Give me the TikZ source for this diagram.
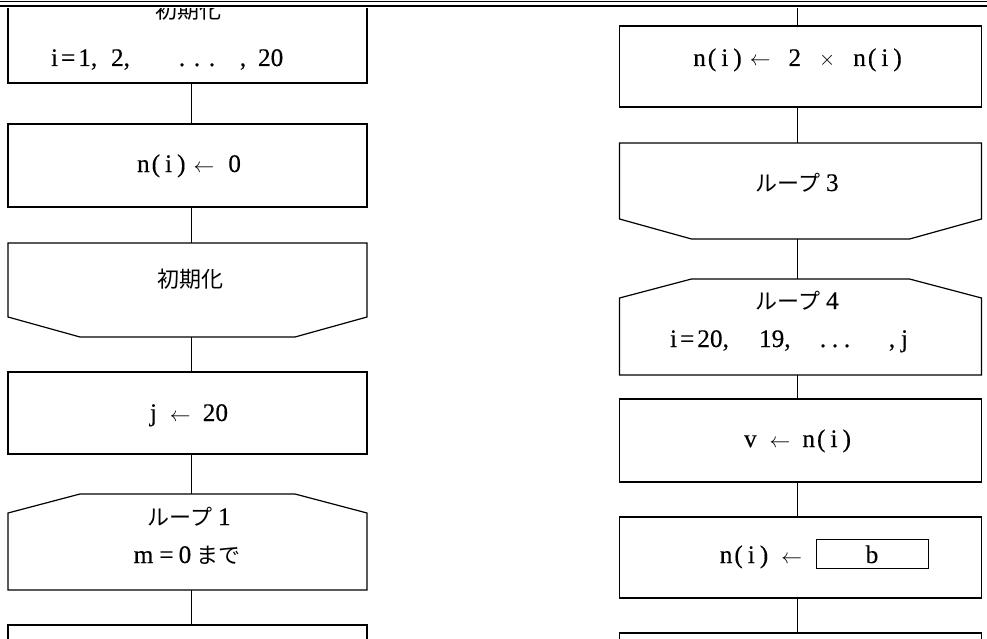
\documentclass[tikz,border=0pt]{standalone}
\usepackage{fontspec}
\setmainfont{Liberation Serif}[Scale=1.15, FakeBold=0.3]
\newfontfamily\jp{Noto Sans CJK JP}
\newcommand{\nix}{n\hspace{2pt}(\hspace{5pt}i\hspace{5pt})}
\newcommand{\larr}{$\leftarrow$}
\begin{document}
\begin{tikzpicture}[x=1pt,y=-1pt,
  every node/.style={inner sep=0pt, outer sep=0pt, font=\fontsize{22}{26}\selectfont},
  frame/.style={draw, line width=1.2pt},
  conn/.style={line width=1.2pt},
  lbox/.style={frame, minimum width=359pt, minimum height=#1},
  rbox/.style={frame, minimum width=362pt, minimum height=#1},
  lsh/.style={minimum width=359pt, minimum height=#1},
  rsh/.style={minimum width=362pt, minimum height=#1},
  lbl/.style={anchor=base},
  lblw/.style={anchor=base west}]
\useasboundingbox (0,0) rectangle (987,639);
\clip (0,0) rectangle (987,639);
\fill[white] (0,0) rectangle (987,639);

% left column
\node[lbox=82pt] (b1) at (187.5,42) {};
\node[lbox=83pt] (b2) at (187.5,165.5) {};
\node[lsh=94pt] (e1) at (187.5,290) {};
\node[lbox=82pt] (b3) at (187.5,413) {};
\node[lsh=96pt] (s1) at (187.5,542) {};
\node[lbox=82pt] (b4) at (187.5,666) {};
% right column
\node[rbox=81pt] (r1) at (800.5,66.5) {};
\node[rsh=96pt] (e3) at (800.5,191) {};
\node[rsh=96pt] (s4) at (800.5,327) {};
\node[rbox=83pt] (r2) at (800.5,440.5) {};
\node[rbox=81pt] (r3) at (800.5,557.5) {};
\node[rbox=82pt] (r4) at (800.5,674) {};
\node[draw, line width=1pt, minimum width=112pt, minimum height=29pt] (bb) at (872,553.5) {};

% loop-end shapes (bottom chamfer)
\foreach \n in {e1,e3}{
  \draw[frame] (\n.north west) -- ([yshift=20pt]\n.south west) -- ([xshift=72pt]\n.south west)
    -- ([xshift=-72pt]\n.south east) -- ([yshift=20pt]\n.south east) -- (\n.north east) -- cycle;
}
% loop-start shapes (top chamfer)
\foreach \n in {s1,s4}{
  \draw[frame] (\n.south west) -- ([yshift=-19pt]\n.north west) -- ([xshift=72pt]\n.north west)
    -- ([xshift=-72pt]\n.north east) -- ([yshift=-19pt]\n.north east) -- (\n.south east) -- cycle;
}

% connectors
\coordinate (cL) at (191.5,0);
\coordinate (cR) at (797.7,0);
\coordinate (top) at (797.7,8.5);
\draw[conn] (b1.south -| cL) -- (b2.north -| cL);
\draw[conn] (b2.south -| cL) -- (e1.north -| cL);
\draw[conn] (e1.south -| cL) -- (b3.north -| cL);
\draw[conn] (b3.south -| cL) -- (s1.north -| cL);
\draw[conn] (s1.south -| cL) -- (b4.north -| cL);
\draw[conn] (r1.south -| cR) -- (e3.north -| cR);
\draw[conn] (e3.south -| cR) -- (s4.north -| cR);
\draw[conn] (s4.south -| cR) -- (r2.north -| cR);
\draw[conn] (r2.south -| cR) -- (r3.north -| cR);
\draw[conn] (r3.south -| cR) -- (r4.north -| cR);

% texts, left column
\node[lbl] (t1a) at (188,18.5) {\jp 初期化};
\node[lblw] (t1b1) at (51,66) {i\hspace{3pt}=\hspace{3pt}1,};
\node[lblw] (t1b2) at (111,66) {2,};
\node[lbl] (t1d1) at (182,66) {.};
\node[lbl] (t1d2) at (197,66) {.};
\node[lbl] (t1d3) at (212,66) {.};
\node[lbl] (t1b3) at (243,66) {,};
\node[lblw] (t1b4) at (258,66) {20};
\node[lbl] (t2) at (189,172) {\nix\hspace{8pt}\larr\hspace{14pt}0};
\node[lbl] (t3) at (190.5,287) {\jp 初期化};
\node[lbl] (t4) at (189,421) {j\hspace{13pt}\larr\hspace{12pt}20};
\node[lbl] (t5a) at (189,525) {{\jp ループ}\hspace{6pt}1};
\node[lbl] (t5b) at (187,563) {m\hspace{6pt}=\hspace{5pt}0\hspace{5pt}{\jp まで}};

% texts, right column
\node[lbl] (u1) at (797.5,66) {\nix\hspace{8pt}\larr\hspace{18pt}2\hspace{18pt}$\times$\hspace{18pt}\nix};
\node[lbl] (u2) at (797,191) {{\jp ループ}\hspace{6pt}3};
\node[lbl] (u3a) at (797,309) {{\jp ループ}\hspace{6pt}4};
\node[lblw] (u3b1) at (670,347) {i\hspace{3pt}=\hspace{3pt}20,};
\node[lblw] (u3b2) at (759,347) {19,};
\node[lbl] (u3d1) at (823,347) {.};
\node[lbl] (u3d2) at (835,347) {.};
\node[lbl] (u3d3) at (847,347) {.};
\node[lbl] (u3b3) at (892,347) {,};
\node[lblw] (u3b4) at (901,347) {j};
\node[lbl] (u4) at (797.5,447) {v\hspace{13pt}\larr\hspace{12pt}\nix};
\node[anchor=base east] (u5) at (802,563) {\nix\hspace{13pt}\larr};
\node[lbl] (u6) at (872,563) {b};

% top rules
\fill[white] (0,0) rectangle (987,8.5);
\draw[line width=1.2pt] (0,1.2) -- (987,1.2);
\draw[line width=2.6pt] (0,6) -- (987,6);
\draw[conn] (top) -- (r1.north -| cR);
\end{tikzpicture}
\end{document}
